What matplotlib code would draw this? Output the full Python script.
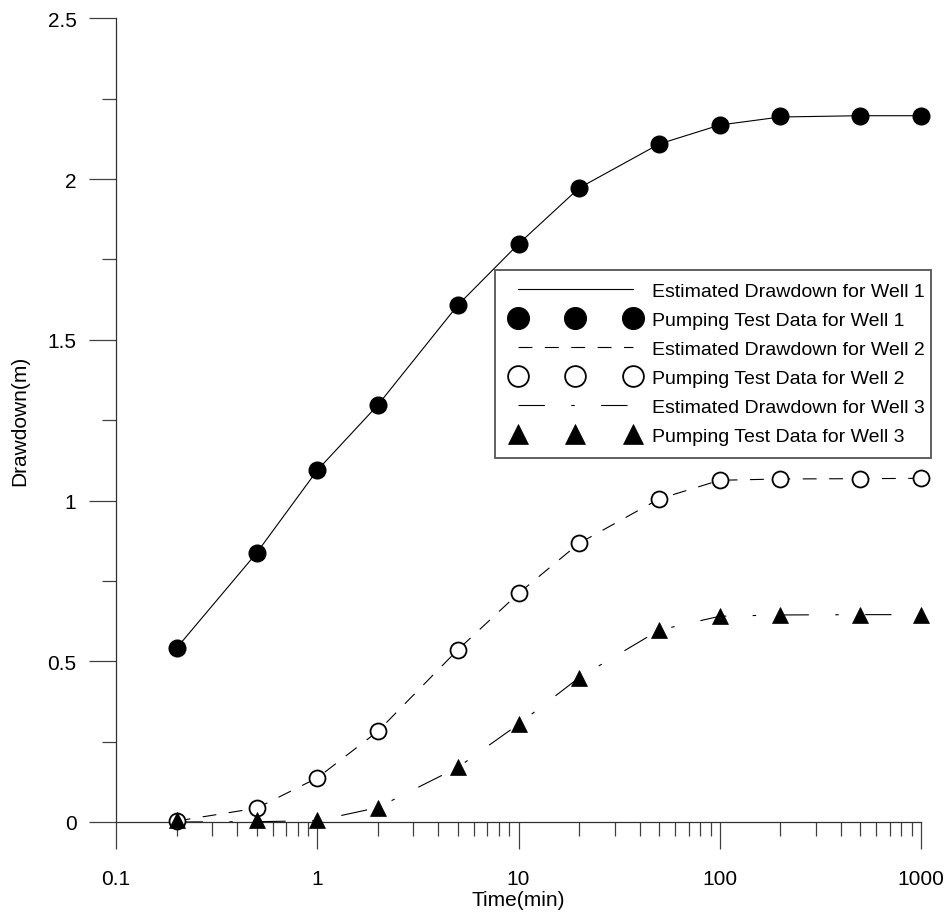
import matplotlib
matplotlib.use("Agg")
import matplotlib.pyplot as plt
from matplotlib.ticker import FixedLocator, NullFormatter, LogLocator
from matplotlib.legend_handler import HandlerLine2D
from matplotlib.patches import Rectangle

plt.rcParams['font.family'] = ['Liberation Sans', 'DejaVu Sans']
plt.rcParams['lines.scale_dashes'] = False

# ---- data ----
time_min = [0.2, 0.5, 1, 2, 5, 10, 20, 50, 100, 200, 500, 1000]

well1_obs = [0.541, 0.837, 1.094, 1.297, 1.608, 1.798, 1.972, 2.109, 2.168, 2.195, 2.197, 2.197]
well2_obs = [0.003, 0.043, 0.137, 0.282, 0.536, 0.711, 0.867, 1.005, 1.065, 1.067, 1.067, 1.069]
well3_obs = [0.005, 0.005, 0.005, 0.045, 0.170, 0.304, 0.449, 0.597, 0.642, 0.645, 0.645, 0.645]

well1_est = [0.541, 0.837, 1.094, 1.297, 1.608, 1.798, 1.972, 2.109, 2.168, 2.193, 2.197, 2.197]
well2_est = [0.003, 0.043, 0.137, 0.282, 0.536, 0.711, 0.867, 1.005, 1.063, 1.067, 1.068, 1.069]
well3_est = [0.000, 0.001, 0.004, 0.045, 0.170, 0.304, 0.449, 0.597, 0.640, 0.644, 0.645, 0.645]

legend_labels = [
    "Estimated Drawdown for Well 1",
    "Pumping Test Data for Well 1",
    "Estimated Drawdown for Well 2",
    "Pumping Test Data for Well 2",
    "Estimated Drawdown for Well 3",
    "Pumping Test Data for Well 3",
]
x_ticks = [0.1, 1, 10, 100, 1000]
x_ticklabels = ["0.1", "1", "10", "100", "1000"]
y_ticks = [0, 0.5, 1, 1.5, 2, 2.5]
y_ticklabels = ["0", "0.5", "1", "1.5", "2", "2.5"]

W, H = 950, 920
fig = plt.figure(figsize=(W / 100, H / 100), dpi=100)
ax = fig.add_axes([116 / W, 1 - 823 / H, (921 - 116) / W, (823 - 19.3) / H])

FS = 14
TFS = 15
lw = 0.8
h1, = ax.plot(time_min, well1_est, color='black', lw=lw, ls='-')
h2, = ax.plot(time_min, well1_obs, ls='none', marker='o', ms=12, mfc='black', mec='black', mew=1,
              clip_on=False, zorder=4)
h3, = ax.plot(time_min, well2_est, color='black', lw=lw)
h3.set_dashes([10, 9])
h4, = ax.plot(time_min, well2_obs, ls='none', marker='o', ms=11.5, mfc='white', mec='black', mew=1.3,
              clip_on=False, zorder=4)
h5, = ax.plot(time_min, well3_est, color='black', lw=lw)
h5.set_dashes([19, 19, 2.5, 19])
h6, = ax.plot(time_min, well3_obs, ls='none', marker='^', ms=11, mfc='black', mec='black', mew=0.5,
              clip_on=False, zorder=4)

ax.set_xscale('log')
ax.set_xlim(0.1, 1000)
ax.set_ylim(0, 2.5)
ax.xaxis.set_major_locator(FixedLocator(x_ticks))
ax.set_xticklabels(x_ticklabels)
ax.xaxis.set_minor_locator(LogLocator(base=10, subs=range(2, 10)))
ax.xaxis.set_minor_formatter(NullFormatter())
ax.yaxis.set_major_locator(FixedLocator(y_ticks))
ax.set_yticklabels(y_ticklabels)
ax.yaxis.set_minor_locator(FixedLocator([0.25, 0.75, 1.25, 1.75, 2.25]))

for s in ['top', 'right']:
    ax.spines[s].set_visible(False)
for s in ['left', 'bottom']:
    ax.spines[s].set_linewidth(0.9)
    ax.spines[s].set_color('#303030')

ax.tick_params(which='major', direction='out', length=19.5, width=0.9, color='#404040',
               labelsize=TFS)
ax.tick_params(axis='y', which='major', pad=9)
ax.tick_params(axis='x', which='major', pad=14)
ax.tick_params(which='minor', direction='out', length=10, width=0.9, color='#404040')

ax.set_xlabel("Time(min)", fontsize=TFS)
ax.set_ylabel("Drawdown(m)", fontsize=TFS)
ax.xaxis.set_label_coords(0.5, -0.084)
ax.yaxis.set_label_coords(-0.108, 0.5)

leg = fig.legend([h1, h2, h3, h4, h5, h6], legend_labels,
                 loc='upper left', bbox_to_anchor=(518 / W, 1 - 283.5 / H),
                 bbox_transform=fig.transFigure,
                 frameon=False, fontsize=FS, numpoints=3, markerscale=1.3,
                 handlelength=5.9, handletextpad=1.0, labelspacing=0.58,
                 borderpad=0, borderaxespad=0,
                 handler_map={matplotlib.lines.Line2D: HandlerLine2D(marker_pad=0)})

fig.patches.append(Rectangle((495 / W, 1 - 459 / H), (931 - 495) / W, (459 - 271) / H,
                             transform=fig.transFigure, fill=False,
                             edgecolor='#606060', lw=1.4, zorder=5))

fig.savefig("out.png", dpi=100)
